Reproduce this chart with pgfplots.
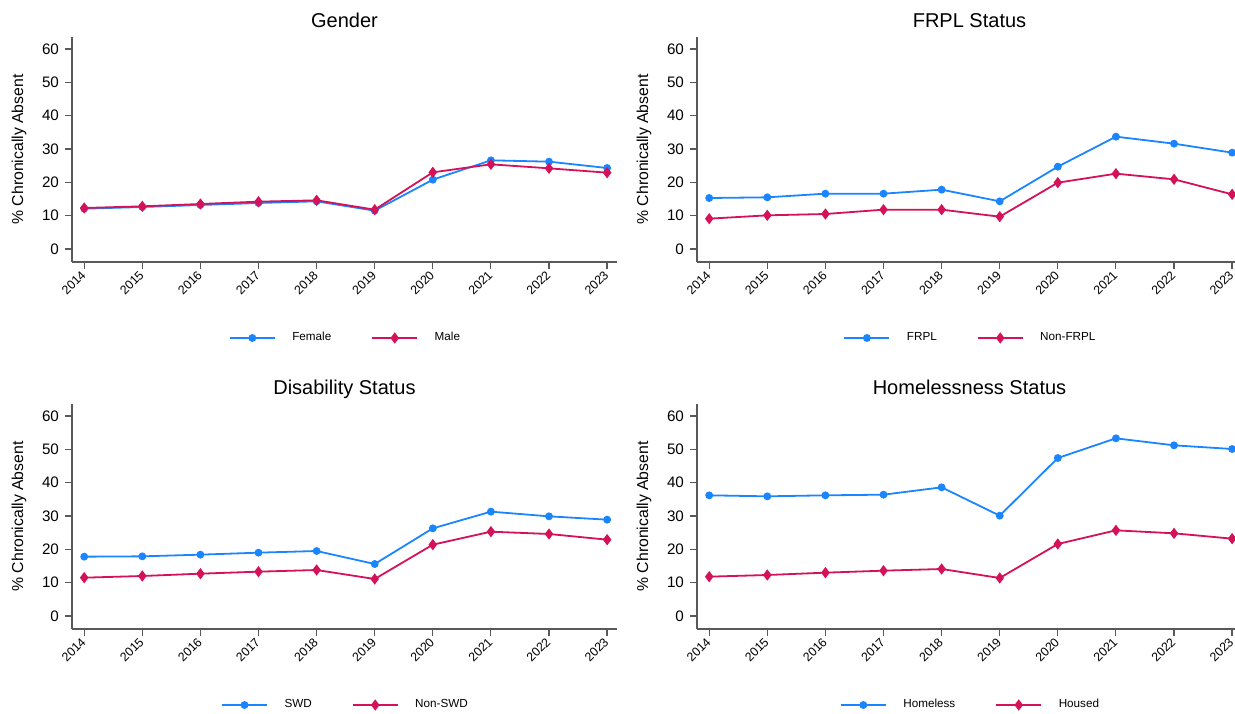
\documentclass[border=0pt]{standalone}
\usepackage{pgfplots}
\pgfplotsset{compat=1.18}
\usepackage{fontspec}
\setmainfont{Liberation Sans}
\definecolor{cblue}{HTML}{1A85FF}
\definecolor{cred}{HTML}{D41159}
\definecolor{axgray}{HTML}{595959}
\pgfplotsset{
  panel/.style={
    scale only axis, width=272.5pt, height=112.5pt,
    anchor=south west,
    xmin=2013.79, xmax=2023.17, ymin=-3.9, ymax=63.6,
    axis lines*=left, axis line style={draw=axgray, line width=0.7pt},
    tick style={draw=axgray, line width=0.6pt},
    tick align=outside, major tick length=3.5pt,
    xtick={2014,...,2023}, ytick={0,10,...,60},
    minor tick num=0,
    /pgf/number format/assume math mode=true,
    /pgf/number format/1000 sep={},
    xticklabel style={font=\fontsize{6.2}{7}\selectfont, rotate=45, anchor=east, xshift=1.8pt, yshift=-1.2pt},
    yticklabel style={font=\fontsize{7.6}{8}\selectfont, xshift=0.5pt},
    ylabel={\% Chronically Absent},
    every axis y label/.style={at={([xshift=-26.5pt]axis description cs:0,0.5)}, rotate=90, anchor=center, font=\fontsize{7.9}{9}\selectfont},
    every axis title/.style={at={([yshift=4.6pt]axis description cs:0.5,1)}, anchor=base, font=\fontsize{10}{12}\selectfont},
    legend columns=2,
    legend style={at={([yshift=-38pt]axis description cs:0.5,0)}, anchor=center, draw=none, fill=none,
      font=\fontsize{5.85}{7}\selectfont, column sep=8.3pt,
      nodes={inner sep=0pt},
      /tikz/every even column/.append style={column sep=20pt}},
    legend cell align=left,
    legend image code/.code={\draw[mark repeat=2,mark phase=2] plot coordinates {(0pt,0pt) (11.25pt,0pt) (22.5pt,0pt)};},
    clip=false,
  },
  sA/.style={color=cblue, line width=0.9pt, mark=*, mark size=1.5pt, mark options={solid}},
  sB/.style={color=cred, line width=0.9pt, mark=diamond*, mark size=2.1pt, mark options={solid}},
}
\begin{document}
\begin{tikzpicture}
\path[use as bounding box] (0,0) rectangle (617.5pt,356.5pt);
% Gender
\begin{axis}[panel, at={(36pt,225.5pt)}, title={Gender}]
\addplot[sA] coordinates {(2014,12.1) (2015,12.6) (2016,13.2) (2017,13.8) (2018,14.3) (2019,11.5) (2020,20.8) (2021,26.6) (2022,26.2) (2023,24.3)};
\addplot[sB] coordinates {(2014,12.3) (2015,12.8) (2016,13.5) (2017,14.2) (2018,14.6) (2019,11.8) (2020,23.0) (2021,25.4) (2022,24.2) (2023,22.9)};
\legend{Female, Male}
\end{axis}
% FRPL
\begin{axis}[panel, at={(348.5pt,225.5pt)}, title={FRPL Status}]
\addplot[sA] coordinates {(2014,15.3) (2015,15.5) (2016,16.6) (2017,16.6) (2018,17.8) (2019,14.3) (2020,24.7) (2021,33.7) (2022,31.6) (2023,28.9)};
\addplot[sB] coordinates {(2014,9.1) (2015,10.1) (2016,10.5) (2017,11.8) (2018,11.8) (2019,9.7) (2020,19.9) (2021,22.6) (2022,20.9) (2023,16.4)};
\legend{FRPL, Non-FRPL}
\end{axis}
% Disability
\begin{axis}[panel, at={(36pt,42pt)}, title={Disability Status}]
\addplot[sA] coordinates {(2014,17.8) (2015,17.9) (2016,18.4) (2017,19.0) (2018,19.5) (2019,15.6) (2020,26.3) (2021,31.3) (2022,29.9) (2023,28.9)};
\addplot[sB] coordinates {(2014,11.5) (2015,12.0) (2016,12.7) (2017,13.3) (2018,13.8) (2019,11.1) (2020,21.4) (2021,25.3) (2022,24.6) (2023,22.9)};
\legend{SWD, Non-SWD}
\end{axis}
% Homelessness
\begin{axis}[panel, at={(348.5pt,42pt)}, title={Homelessness Status}]
\addplot[sA] coordinates {(2014,36.2) (2015,35.9) (2016,36.2) (2017,36.4) (2018,38.6) (2019,30.1) (2020,47.4) (2021,53.3) (2022,51.2) (2023,50.1)};
\addplot[sB] coordinates {(2014,11.8) (2015,12.3) (2016,13.0) (2017,13.6) (2018,14.1) (2019,11.4) (2020,21.6) (2021,25.7) (2022,24.8) (2023,23.2)};
\legend{Homeless, Housed}
\end{axis}
\end{tikzpicture}
\end{document}
